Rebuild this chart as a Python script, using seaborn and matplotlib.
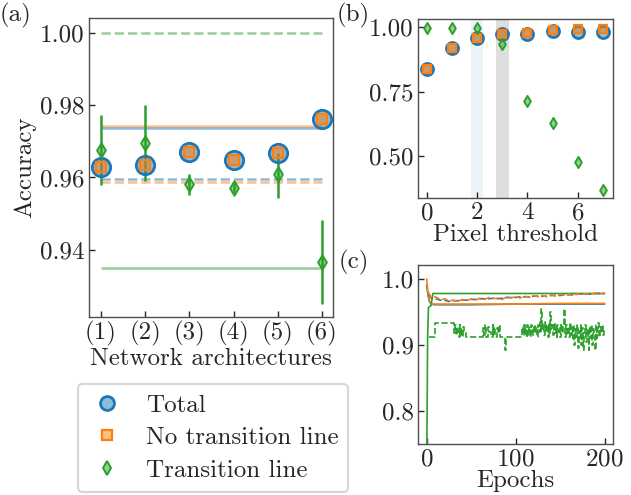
import matplotlib
matplotlib.use("Agg")
import matplotlib.pyplot as plt
from matplotlib.lines import Line2D
import numpy as np
import seaborn as sns

sns.set_style("ticks")
plt.rcParams["font.family"] = ["cmr10", "DejaVu Serif"]
plt.rcParams["mathtext.fontset"] = "cm"
plt.rcParams["axes.formatter.use_mathtext"] = True
FS = 18
plt.rcParams["font.size"] = FS

BLUE, ORANGE, GREEN = "#1f77b4", "#ff7f0e", "#2ca02c"

# (a) network architectures
arch = [1, 2, 3, 4, 5, 6]
arch_labels = ["(1)", "(2)", "(3)", "(4)", "(5)", "(6)"]
acc_total = [0.9629, 0.9635, 0.9670, 0.9648, 0.9667, 0.9761]
acc_notrans = [0.9628, 0.9634, 0.9670, 0.9648, 0.9667, 0.9762]
acc_trans = [0.9676, 0.9695, 0.9581, 0.9571, 0.9610, 0.9368]
trans_lo = [0.9579, 0.9590, 0.9551, 0.9556, 0.9544, 0.9252]
trans_hi = [0.9772, 0.9801, 0.9609, 0.9586, 0.9668, 0.9484]
# reference levels: (value, colour, linestyle)
ref_lines = [
    (1.0000, GREEN, "--"),
    (0.9741, ORANGE, "-"),
    (0.9736, BLUE, "-"),
    (0.9596, BLUE, "--"),
    (0.9588, ORANGE, "--"),
    (0.9349, GREEN, "-"),
]

# (b) pixel threshold
thresh = [0, 1, 2, 3, 4, 5, 6, 7]
thr_total = [0.837, 0.920, 0.958, 0.971, 0.973, 0.983, 0.981, 0.981]
thr_notrans = [0.837, 0.920, 0.958, 0.971, 0.975, 0.986, 0.990, 0.992]
thr_trans = [0.996, 0.997, 0.997, 0.932, 0.715, 0.629, 0.477, 0.369]

# (c) training curves
ep_solid = [0, 1, 2, 3, 4, 5, 6, 8, 10, 20, 50, 100, 150, 200]
orange_solid = [1.000, 0.985, 0.975, 0.968, 0.965, 0.963, 0.962, 0.962, 0.962, 0.962, 0.962, 0.962, 0.963, 0.963]
blue_solid = [0.990, 0.980, 0.972, 0.966, 0.964, 0.962, 0.962, 0.961, 0.961, 0.961, 0.961, 0.962, 0.962, 0.962]
ep_green_solid = [0, 1, 2, 5, 6, 7, 200]
green_solid = [0.700, 0.910, 0.957, 0.960, 0.970, 0.978, 0.978]

ep_dash = [2, 5, 10, 15, 20, 25, 30, 35, 40, 45, 50, 55, 60, 65, 70, 75, 80, 85, 90, 95, 100,
           105, 110, 115, 120, 125, 130, 135, 140, 145, 150, 155, 160, 165, 170, 175, 180, 185, 190, 195, 200]
orange_dash = [0.980, 0.972, 0.973, 0.969, 0.970, 0.967, 0.968, 0.966, 0.969, 0.967, 0.970, 0.968, 0.971,
               0.969, 0.972, 0.970, 0.971, 0.969, 0.973, 0.971, 0.974, 0.971, 0.974, 0.972, 0.975, 0.973,
               0.975, 0.973, 0.976, 0.974, 0.977, 0.975, 0.977, 0.975, 0.978, 0.976, 0.978, 0.977, 0.979,
               0.977, 0.979]
blue_dash = [0.976, 0.971, 0.970, 0.968, 0.968, 0.966, 0.967, 0.967, 0.968, 0.968, 0.969, 0.969, 0.970,
             0.970, 0.970, 0.971, 0.970, 0.971, 0.972, 0.972, 0.972, 0.973, 0.973, 0.973, 0.974, 0.974,
             0.974, 0.974, 0.975, 0.975, 0.975, 0.976, 0.976, 0.976, 0.977, 0.977, 0.977, 0.977, 0.978,
             0.978, 0.978]

ep_green_dash = [3, 9, 31, 32, 33, 34, 35, 36, 37, 38, 39, 40, 41, 42, 44, 63, 64, 66, 67, 69, 70, 72,
                 74, 75, 76, 77, 79, 80, 81, 82, 84, 88, 89,
                 107, 108, 109, 110, 111, 112, 113, 114, 115, 116, 117, 118, 119, 120, 121, 122, 123, 124,
                 125, 126, 127, 128, 129, 130, 131, 132, 133, 134, 135, 136, 137, 138, 139, 140, 141, 142,
                 143, 144, 145, 146, 147, 148, 149, 150, 151, 152, 153, 154, 155, 156, 157, 158, 159, 160,
                 161, 162, 163, 164, 165, 166, 167, 168, 169, 170, 171, 172, 173, 174, 175, 176, 177, 178,
                 179, 180, 181, 182, 183, 184, 185, 186, 187, 188, 189, 190, 191, 192, 193, 194, 195, 196,
                 197, 198, 199, 200]
green_dash = [0.913, 0.933, 0.918, 0.930, 0.915, 0.928, 0.920, 0.913, 0.930, 0.916, 0.926, 0.913, 0.928,
              0.918, 0.913, 0.926, 0.915, 0.930, 0.913, 0.928, 0.920, 0.913,
              0.930, 0.916, 0.928, 0.913, 0.926, 0.918, 0.930, 0.913, 0.913, 0.893, 0.913,
              0.928, 0.915, 0.930, 0.918, 0.926, 0.913, 0.930, 0.916, 0.928, 0.913, 0.930, 0.920, 0.926,
              0.915, 0.930, 0.918, 0.928, 0.913,
              0.930, 0.920, 0.935, 0.918, 0.955, 0.925, 0.932, 0.915, 0.935, 0.920, 0.930, 0.913, 0.933,
              0.918, 0.950, 0.925, 0.930, 0.915,
              0.933, 0.918, 0.928, 0.912, 0.930, 0.920, 0.926, 0.913, 0.932, 0.918, 0.930, 0.955, 0.922,
              0.913, 0.930, 0.916, 0.928, 0.912,
              0.933, 0.915, 0.926, 0.910, 0.930, 0.900, 0.925, 0.912, 0.930, 0.895, 0.922, 0.910, 0.932,
              0.900, 0.926, 0.893, 0.918, 0.930,
              0.905, 0.925, 0.912, 0.893, 0.928, 0.910, 0.930, 0.900, 0.925, 0.915, 0.893, 0.930, 0.910,
              0.925, 0.933, 0.912, 0.928, 0.918,
              0.930, 0.915, 0.925, 0.925]

fig = plt.figure(figsize=(6.31, 4.95), dpi=100)
ax_a = fig.add_axes([0.141, 0.3596, 0.3867, 0.604])
ax_b = fig.add_axes([0.6624, 0.6, 0.309, 0.3616])
ax_c = fig.add_axes([0.6624, 0.103, 0.309, 0.3616])

blue_face = (0.12, 0.47, 0.71, 0.5)
orange_face = (1.0, 0.5, 0.05, 0.5)
green_face = (0.17, 0.63, 0.17, 0.5)


def markers(ax, x, tot, notr, tr, big):
    s_c, s_s, s_d = (175, 60, 55) if big else (75, 32, 32)
    sns.scatterplot(x=x, y=tot, ax=ax, marker="o", s=s_c, color=blue_face,
                    edgecolor=BLUE, linewidth=2, zorder=3, legend=False)
    sns.scatterplot(x=x, y=notr, ax=ax, marker="s", s=s_s, color=orange_face,
                    edgecolor=ORANGE, linewidth=1.6, zorder=4, legend=False)
    sns.scatterplot(x=x, y=tr, ax=ax, marker="d", s=s_d, color=green_face,
                    edgecolor=GREEN, linewidth=1.4, zorder=5, legend=False)


# panel (a)
for val, col, ls in ref_lines:
    ax_a.hlines(val, arch[0], arch[-1], color=col, linestyle=ls, lw=1.8, alpha=0.5, zorder=1)
err = [np.array(acc_trans) - np.array(trans_lo), np.array(trans_hi) - np.array(acc_trans)]
ax_a.errorbar(arch, acc_trans, yerr=err, fmt="none", ecolor=GREEN, elinewidth=1.8, zorder=2)
markers(ax_a, arch, acc_total, acc_notrans, acc_trans, True)
ax_a.set_xlim(0.73, 6.25)
ax_a.set_ylim(0.9215, 1.004)
ax_a.set_xticks(arch)
ax_a.set_xticklabels(arch_labels)
ax_a.set_yticks([0.94, 0.96, 0.98, 1.00])
ax_a.set_yticklabels(["0.94", "0.96", "0.98", "1.00"])
ax_a.set_xlabel("Network architectures", labelpad=1.5)
ax_a.set_ylabel("Accuracy", labelpad=3)

# panel (b)
ax_b.axvspan(1.75, 2.25, color="#d8eaf2", alpha=0.5, lw=0, zorder=0)
ax_b.axvspan(2.75, 3.25, color="#c8c8c8", alpha=0.6, lw=0, zorder=0)
markers(ax_b, thresh, thr_total, thr_notrans, thr_trans, False)
ax_b.set_xlim(-0.35, 7.4)
ax_b.set_ylim(0.339, 1.03)
ax_b.set_xticks([0, 2, 4, 6])
ax_b.set_yticks([0.5, 0.75, 1.0])
ax_b.set_yticklabels(["0.50", "0.75", "1.00"])
ax_b.set_xlabel("Pixel threshold", labelpad=0)

# panel (c)
lw = 1.2
sns.lineplot(x=ep_solid, y=blue_solid, ax=ax_c, color=BLUE, lw=lw)
sns.lineplot(x=ep_solid, y=orange_solid, ax=ax_c, color=ORANGE, lw=lw)
sns.lineplot(x=ep_green_solid, y=green_solid, ax=ax_c, color=GREEN, lw=lw)
sns.lineplot(x=ep_dash, y=blue_dash, ax=ax_c, color=BLUE, lw=lw, linestyle="--")
sns.lineplot(x=ep_dash, y=orange_dash, ax=ax_c, color=ORANGE, lw=lw, linestyle="--")
sns.lineplot(x=ep_green_dash, y=green_dash, ax=ax_c, color=GREEN, lw=lw, linestyle="--",
             drawstyle="steps-post")
ax_c.set_xlim(-9.8, 209.4)
ax_c.set_ylim(0.7506, 1.021)
ax_c.set_xticks([0, 100, 200])
ax_c.set_yticks([0.8, 0.9, 1.0])
ax_c.set_yticklabels(["0.8", "0.9", "1.0"])
ax_c.set_xlabel("Epochs", labelpad=0)

for ax in (ax_a, ax_b, ax_c):
    ax.tick_params(direction="in", length=4, width=1, pad=3, labelsize=FS)
    for sp in ax.spines.values():
        sp.set_color("0.3")
        sp.set_linewidth(1)
        sp.set_visible(True)

fig.text(0.0, 0.968, "(a)", fontsize=FS, va="center", ha="left")
fig.text(0.534, 0.968, "(b)", fontsize=FS, va="center", ha="left")
fig.text(0.537, 0.469, "(c)", fontsize=FS, va="center", ha="left")

handles = [
    Line2D([], [], ls="", marker="o", ms=10, mfc=blue_face, mec=BLUE, mew=2),
    Line2D([], [], ls="", marker="s", ms=6.5, mfc=orange_face, mec=ORANGE, mew=1.6),
    Line2D([], [], ls="", marker="d", ms=7, mfc=green_face, mec=GREEN, mew=1.4),
]
leg = fig.legend(handles, ["Total", "No transition line", "Transition line"],
                 loc="upper left", bbox_to_anchor=(0.124, 0.224), fontsize=FS,
                 frameon=True, fancybox=True, handlelength=1.5, handletextpad=0.8,
                 labelspacing=0.4, borderpad=0.4, borderaxespad=0)
leg.get_frame().set_edgecolor("#cccccc")
leg.get_frame().set_linewidth(1.5)

fig.savefig("out.png", dpi=100)
